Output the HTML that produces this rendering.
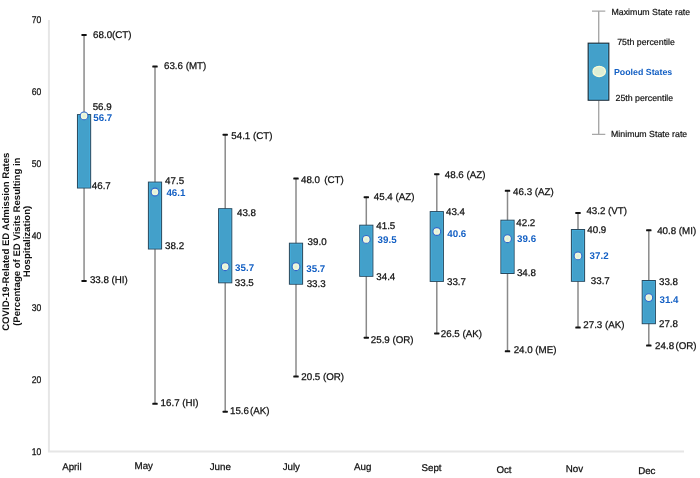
<!DOCTYPE html>
<html><head><meta charset="utf-8"><style>
html,body{margin:0;padding:0;background:#fff;}
svg{display:block;filter:blur(0.35px);}
text{font-family:"Liberation Sans",sans-serif;text-rendering:geometricPrecision;}
</style></head><body>
<svg width="700" height="478" viewBox="0 0 700 478">
<defs><radialGradient id="cg"><stop offset="0" stop-color="#d9eedb"/><stop offset="0.55" stop-color="#eef6dc"/><stop offset="1" stop-color="#fbfbd8"/></radialGradient></defs>
<rect width="700" height="478" fill="#fff"/>

<path d="M48.9 20 V451.4 H684" fill="none" stroke="#e6e6e6" stroke-width="2"/>
<text transform="translate(41.4,23.0) scale(0.88,1)" font-size="9.75" text-anchor="end" fill="#111" stroke="#111" stroke-width="0.25">70</text>
<text transform="translate(41.4,95.1) scale(0.88,1)" font-size="9.75" text-anchor="end" fill="#111" stroke="#111" stroke-width="0.25">60</text>
<text transform="translate(41.4,166.8) scale(0.88,1)" font-size="9.75" text-anchor="end" fill="#111" stroke="#111" stroke-width="0.25">50</text>
<text transform="translate(41.4,238.7) scale(0.88,1)" font-size="9.75" text-anchor="end" fill="#111" stroke="#111" stroke-width="0.25">40</text>
<text transform="translate(41.4,311.1) scale(0.88,1)" font-size="9.75" text-anchor="end" fill="#111" stroke="#111" stroke-width="0.25">30</text>
<text transform="translate(41.4,383.1) scale(0.88,1)" font-size="9.75" text-anchor="end" fill="#111" stroke="#111" stroke-width="0.25">20</text>
<text transform="translate(41.4,455.1) scale(0.88,1)" font-size="9.75" text-anchor="end" fill="#111" stroke="#111" stroke-width="0.25">10</text>
<g font-weight="bold" font-size="9.6" fill="#111" text-anchor="middle">
<text transform="translate(9.0,241.7) rotate(-90)">COVID-19-Related ED Admission Rates</text>
<text transform="translate(19.6,241.7) rotate(-90)">(Percentage of ED Visits Resulting in</text>
<text transform="translate(30.1,241.5) rotate(-90)">Hospitalization)</text>
</g>
<line x1="84.06" y1="34.4" x2="84.06" y2="280.9" stroke="#8a8a8a" stroke-width="1.5"/>
<rect x="77.46" y="114.6" width="13.2" height="73.4" fill="#43a0ca" stroke="#28495e" stroke-width="1"/>
<rect x="78.46" y="115.6" width="11.2" height="71.4" fill="none" stroke="#45b2e2" stroke-width="0.8" opacity="0.8"/>
<rect x="81.36" y="33.9" width="5.4" height="2" rx="0.6" fill="#111"/>
<rect x="81.36" y="279.9" width="5.4" height="2" rx="0.6" fill="#111"/>
<circle cx="84.06" cy="115.9" r="3.9" fill="url(#cg)" stroke="#2d68cc" stroke-width="1.1"/>
<line x1="155.0" y1="66.0" x2="155.0" y2="403.8" stroke="#8a8a8a" stroke-width="1.5"/>
<rect x="148.40" y="182.1" width="13.2" height="66.9" fill="#43a0ca" stroke="#28495e" stroke-width="1"/>
<rect x="149.40" y="183.1" width="11.2" height="64.9" fill="none" stroke="#45b2e2" stroke-width="0.8" opacity="0.8"/>
<rect x="152.30" y="65.5" width="5.4" height="2" rx="0.6" fill="#111"/>
<rect x="152.30" y="402.8" width="5.4" height="2" rx="0.6" fill="#111"/>
<circle cx="155.0" cy="192.0" r="3.9" fill="url(#cg)" stroke="#2d68cc" stroke-width="1.1"/>
<line x1="225.2" y1="134.2" x2="225.2" y2="411.7" stroke="#8a8a8a" stroke-width="1.5"/>
<rect x="218.60" y="208.7" width="13.2" height="74.1" fill="#43a0ca" stroke="#28495e" stroke-width="1"/>
<rect x="219.60" y="209.7" width="11.2" height="72.1" fill="none" stroke="#45b2e2" stroke-width="0.8" opacity="0.8"/>
<rect x="222.50" y="133.7" width="5.4" height="2" rx="0.6" fill="#111"/>
<rect x="222.50" y="410.7" width="5.4" height="2" rx="0.6" fill="#111"/>
<circle cx="225.2" cy="266.7" r="3.9" fill="url(#cg)" stroke="#2d68cc" stroke-width="1.1"/>
<line x1="296.0" y1="178.0" x2="296.0" y2="376.5" stroke="#8a8a8a" stroke-width="1.5"/>
<rect x="289.40" y="243.2" width="13.2" height="41.0" fill="#43a0ca" stroke="#28495e" stroke-width="1"/>
<rect x="290.40" y="244.2" width="11.2" height="39.0" fill="none" stroke="#45b2e2" stroke-width="0.8" opacity="0.8"/>
<rect x="293.30" y="177.5" width="5.4" height="2" rx="0.6" fill="#111"/>
<rect x="293.30" y="375.5" width="5.4" height="2" rx="0.6" fill="#111"/>
<circle cx="296.0" cy="266.7" r="3.9" fill="url(#cg)" stroke="#2d68cc" stroke-width="1.1"/>
<line x1="366.3" y1="196.7" x2="366.3" y2="337.7" stroke="#8a8a8a" stroke-width="1.5"/>
<rect x="359.70" y="225.2" width="13.2" height="51.1" fill="#43a0ca" stroke="#28495e" stroke-width="1"/>
<rect x="360.70" y="226.2" width="11.2" height="49.1" fill="none" stroke="#45b2e2" stroke-width="0.8" opacity="0.8"/>
<rect x="363.60" y="196.2" width="5.4" height="2" rx="0.6" fill="#111"/>
<rect x="363.60" y="336.7" width="5.4" height="2" rx="0.6" fill="#111"/>
<circle cx="366.3" cy="239.4" r="3.9" fill="url(#cg)" stroke="#2d68cc" stroke-width="1.1"/>
<line x1="436.8" y1="173.7" x2="436.8" y2="333.4" stroke="#8a8a8a" stroke-width="1.5"/>
<rect x="430.20" y="211.6" width="13.2" height="69.8" fill="#43a0ca" stroke="#28495e" stroke-width="1"/>
<rect x="431.20" y="212.6" width="11.2" height="67.8" fill="none" stroke="#45b2e2" stroke-width="0.8" opacity="0.8"/>
<rect x="434.10" y="173.2" width="5.4" height="2" rx="0.6" fill="#111"/>
<rect x="434.10" y="332.4" width="5.4" height="2" rx="0.6" fill="#111"/>
<circle cx="436.8" cy="231.5" r="3.9" fill="url(#cg)" stroke="#2d68cc" stroke-width="1.1"/>
<line x1="507.5" y1="190.3" x2="507.5" y2="351.3" stroke="#8a8a8a" stroke-width="1.5"/>
<rect x="500.90" y="220.2" width="13.2" height="53.3" fill="#43a0ca" stroke="#28495e" stroke-width="1"/>
<rect x="501.90" y="221.2" width="11.2" height="51.3" fill="none" stroke="#45b2e2" stroke-width="0.8" opacity="0.8"/>
<rect x="504.80" y="189.8" width="5.4" height="2" rx="0.6" fill="#111"/>
<rect x="504.80" y="350.3" width="5.4" height="2" rx="0.6" fill="#111"/>
<circle cx="507.5" cy="238.7" r="3.9" fill="url(#cg)" stroke="#2d68cc" stroke-width="1.1"/>
<line x1="578.0" y1="212.5" x2="578.0" y2="327.6" stroke="#8a8a8a" stroke-width="1.5"/>
<rect x="571.40" y="229.5" width="13.2" height="51.8" fill="#43a0ca" stroke="#28495e" stroke-width="1"/>
<rect x="572.40" y="230.5" width="11.2" height="49.8" fill="none" stroke="#45b2e2" stroke-width="0.8" opacity="0.8"/>
<rect x="575.30" y="212.0" width="5.4" height="2" rx="0.6" fill="#111"/>
<rect x="575.30" y="326.6" width="5.4" height="2" rx="0.6" fill="#111"/>
<circle cx="578.0" cy="255.9" r="3.9" fill="url(#cg)" stroke="#2d68cc" stroke-width="1.1"/>
<line x1="648.8" y1="229.8" x2="648.8" y2="345.6" stroke="#8a8a8a" stroke-width="1.5"/>
<rect x="642.20" y="280.5" width="13.2" height="43.2" fill="#43a0ca" stroke="#28495e" stroke-width="1"/>
<rect x="643.20" y="281.5" width="11.2" height="41.2" fill="none" stroke="#45b2e2" stroke-width="0.8" opacity="0.8"/>
<rect x="646.10" y="229.3" width="5.4" height="2" rx="0.6" fill="#111"/>
<rect x="646.10" y="344.6" width="5.4" height="2" rx="0.6" fill="#111"/>
<circle cx="648.8" cy="297.6" r="3.9" fill="url(#cg)" stroke="#2d68cc" stroke-width="1.1"/>
<text x="93.1" y="38.0" font-size="9.75" fill="#111" stroke="#111" stroke-width="0.25">68.0(CT)</text>
<text x="92.7" y="110.0" font-size="9.75" fill="#111" stroke="#111" stroke-width="0.25">56.9</text>
<text x="93.3" y="120.5" font-size="9.75" font-weight="bold" fill="#1460c4">56.7</text>
<text x="91.8" y="189.0" font-size="9.75" fill="#111" stroke="#111" stroke-width="0.25">46.7</text>
<text x="89.9" y="282.7" font-size="9.75" fill="#111" stroke="#111" stroke-width="0.25">33.8 (HI)</text>
<text x="164.0" y="69.0" font-size="9.75" fill="#111" stroke="#111" stroke-width="0.25">63.6 (MT)</text>
<text x="165.1" y="183.7" font-size="9.75" fill="#111" stroke="#111" stroke-width="0.25">47.5</text>
<text x="166.4" y="195.5" font-size="9.75" font-weight="bold" fill="#1460c4">46.1</text>
<text x="165.1" y="248.7" font-size="9.75" fill="#111" stroke="#111" stroke-width="0.25">38.2</text>
<text x="160.6" y="406.4" font-size="9.75" fill="#111" stroke="#111" stroke-width="0.25">16.7 (HI)</text>
<text x="231.3" y="139.0" font-size="9.75" fill="#111" stroke="#111" stroke-width="0.25">54.1 (CT)</text>
<text x="237.0" y="216.3" font-size="9.75" fill="#111" stroke="#111" stroke-width="0.25">43.8</text>
<text x="235.1" y="270.5" font-size="9.75" font-weight="bold" fill="#1460c4">35.7</text>
<text x="234.8" y="286.4" font-size="9.75" fill="#111" stroke="#111" stroke-width="0.25">33.5</text>
<text x="230.0" y="413.5" font-size="9.75" fill="#111" stroke="#111" stroke-width="0.25" word-spacing="-1.6">15.6 (AK)</text>
<text x="301.0" y="182.5" font-size="9.75" fill="#111" stroke="#111" stroke-width="0.25" word-spacing="1.5">48.0 (CT)</text>
<text x="307.6" y="244.6" font-size="9.75" fill="#111" stroke="#111" stroke-width="0.25">39.0</text>
<text x="306.3" y="272.0" font-size="9.75" font-weight="bold" fill="#1460c4">35.7</text>
<text x="306.7" y="286.5" font-size="9.75" fill="#111" stroke="#111" stroke-width="0.25">33.3</text>
<text x="301.3" y="379.5" font-size="9.75" fill="#111" stroke="#111" stroke-width="0.25">20.5 (OR)</text>
<text x="373.8" y="199.8" font-size="9.75" fill="#111" stroke="#111" stroke-width="0.25">45.4 (AZ)</text>
<text x="376.3" y="229.2" font-size="9.75" fill="#111" stroke="#111" stroke-width="0.25">41.5</text>
<text x="377.6" y="243.2" font-size="9.75" font-weight="bold" fill="#1460c4">39.5</text>
<text x="376.3" y="280.0" font-size="9.75" fill="#111" stroke="#111" stroke-width="0.25">34.4</text>
<text x="370.8" y="342.5" font-size="9.75" fill="#111" stroke="#111" stroke-width="0.25">25.9 (OR)</text>
<text x="444.8" y="178.0" font-size="9.75" fill="#111" stroke="#111" stroke-width="0.25">48.6 (AZ)</text>
<text x="446.0" y="214.9" font-size="9.75" fill="#111" stroke="#111" stroke-width="0.25">43.4</text>
<text x="447.3" y="237.3" font-size="9.75" font-weight="bold" fill="#1460c4">40.6</text>
<text x="447.0" y="285.1" font-size="9.75" fill="#111" stroke="#111" stroke-width="0.25">33.7</text>
<text x="440.8" y="337.0" font-size="9.75" fill="#111" stroke="#111" stroke-width="0.25">26.5 (AK)</text>
<text x="513.1" y="194.5" font-size="9.75" fill="#111" stroke="#111" stroke-width="0.25">46.3 (AZ)</text>
<text x="516.3" y="226.2" font-size="9.75" fill="#111" stroke="#111" stroke-width="0.25">42.2</text>
<text x="517.1" y="241.7" font-size="9.75" font-weight="bold" fill="#1460c4">39.6</text>
<text x="516.9" y="275.5" font-size="9.75" fill="#111" stroke="#111" stroke-width="0.25">34.8</text>
<text x="513.7" y="353.0" font-size="9.75" fill="#111" stroke="#111" stroke-width="0.25">24.0 (ME)</text>
<text x="586.4" y="214.2" font-size="9.75" fill="#111" stroke="#111" stroke-width="0.25">43.2 (VT)</text>
<text x="587.3" y="233.2" font-size="9.75" fill="#111" stroke="#111" stroke-width="0.25">40.9</text>
<text x="589.6" y="259.3" font-size="9.75" font-weight="bold" fill="#1460c4">37.2</text>
<text x="590.8" y="284.2" font-size="9.75" fill="#111" stroke="#111" stroke-width="0.25">33.7</text>
<text x="583.3" y="328.0" font-size="9.75" fill="#111" stroke="#111" stroke-width="0.25">27.3 (AK)</text>
<text x="657.2" y="234.3" font-size="9.75" fill="#111" stroke="#111" stroke-width="0.25">40.8 (MI)</text>
<text x="659.0" y="284.8" font-size="9.75" fill="#111" stroke="#111" stroke-width="0.25">33.8</text>
<text x="659.5" y="302.7" font-size="9.75" font-weight="bold" fill="#1460c4">31.4</text>
<text x="659.0" y="327.1" font-size="9.75" fill="#111" stroke="#111" stroke-width="0.25">27.8</text>
<text x="655.1" y="349.0" font-size="9.75" fill="#111" stroke="#111" stroke-width="0.25" word-spacing="-1.4">24.8 (OR)</text>
<text x="71.9" y="469.8" font-size="9.75" text-anchor="middle" fill="#111" stroke="#111" stroke-width="0.25">April</text>
<text x="143.8" y="469.2" font-size="9.75" text-anchor="middle" fill="#111" stroke="#111" stroke-width="0.25">May</text>
<text x="220.3" y="470.0" font-size="9.75" text-anchor="middle" fill="#111" stroke="#111" stroke-width="0.25">June</text>
<text x="291.3" y="470.0" font-size="9.75" text-anchor="middle" fill="#111" stroke="#111" stroke-width="0.25">July</text>
<text x="362.7" y="470.0" font-size="9.75" text-anchor="middle" fill="#111" stroke="#111" stroke-width="0.25">Aug</text>
<text x="431.5" y="470.5" font-size="9.75" text-anchor="middle" fill="#111" stroke="#111" stroke-width="0.25">Sept</text>
<text x="504.0" y="472.6" font-size="9.75" text-anchor="middle" fill="#111" stroke="#111" stroke-width="0.25">Oct</text>
<text x="574.5" y="472.2" font-size="9.75" text-anchor="middle" fill="#111" stroke="#111" stroke-width="0.25">Nov</text>
<text x="646.8" y="473.6" font-size="9.75" text-anchor="middle" fill="#111" stroke="#111" stroke-width="0.25">Dec</text>
<g>
<path d="M592 11.1 H605.3 M598.7 11.1 V43 M598.7 100.6 V134.4 M592 134.4 H605.3" stroke="#a8a8a8" stroke-width="1.4" fill="none"/>
<rect x="588.2" y="43.2" width="20.6" height="57" fill="#43a0ca" stroke="#1f2f3a" stroke-width="1.2"/>
<rect x="589.3" y="44.3" width="18.4" height="54.8" fill="none" stroke="#45b2e2" stroke-width="0.8" opacity="0.8"/>
<ellipse cx="599.2" cy="71.4" rx="6.2" ry="5.1" fill="#deefd6" stroke="#fbfbd4" stroke-width="1.3"/>
<g font-size="8.8" fill="#111">
<text x="611.5" y="15.0" stroke="#111" stroke-width="0.2">Maximum State rate</text>
<text x="617.2" y="44.8" stroke="#111" stroke-width="0.2">75th percentile</text>
<text x="614.0" y="74.8" font-weight="bold" fill="#1460c4">Pooled States</text>
<text x="615.5" y="100.8" stroke="#111" stroke-width="0.2">25th percentile</text>
<text x="611.0" y="136.8" stroke="#111" stroke-width="0.2">Minimum State rate</text>
</g></g>
</svg>
</body></html>
